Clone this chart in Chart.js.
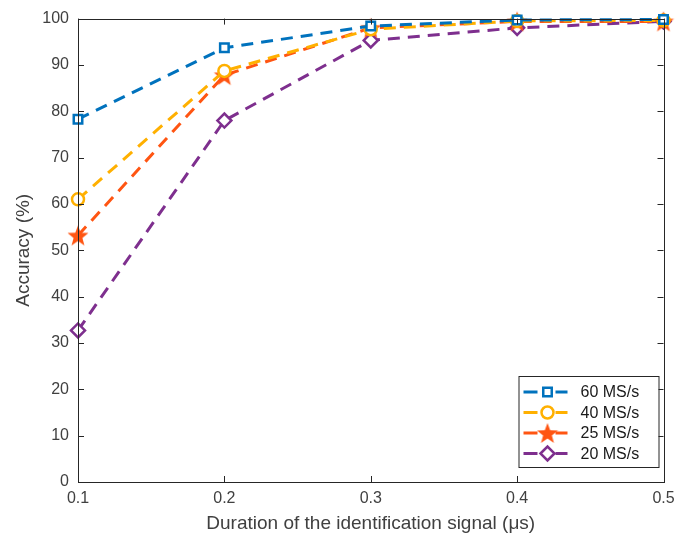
<!DOCTYPE html>
<html>
<head>
<meta charset="utf-8">
<script src="https://cdn.jsdelivr.net/npm/chart.js@4"></script>
<style>
  html, body { margin: 0; padding: 0; background: #fff; }
  #wrap { width: 677px; height: 538px; }
</style>
</head>
<body>
<div id="wrap"><canvas id="chart" width="677" height="538"></canvas></div>
<script>
// Duration of the identification signal (us)
var durations = [0.1, 0.2, 0.3, 0.4, 0.5];

// Accuracy (%) per sampling rate
var acc60 = [78.3, 93.7, 98.4, 99.7, 99.8];
var acc40 = [61.0, 88.7, 97.7, 99.5, 99.6];
var acc25 = [53.2, 87.8, 98.0, 99.4, 99.4];
var acc20 = [32.7, 78.0, 95.3, 98.0, 99.4];

var seriesNames = ['60 MS/s', '40 MS/s', '25 MS/s', '20 MS/s'];
var xTicks = [0.1, 0.2, 0.3, 0.4, 0.5];
var yTicks = [0, 10, 20, 30, 40, 50, 60, 70, 80, 90, 100];

var FONT = '"Liberation Sans", Arial, Helvetica, sans-serif';
var TEXT = '#404040';
var AXIS = '#262626';
var colors = ['#0072BD', '#FFB000', '#FF5512', '#7E2F8E'];

function makeStar(color, size) {
    var c = document.createElement('canvas');
    c.width = size; c.height = size;
    var g = c.getContext('2d');
    var cx = size / 2, cy = size / 2 + 1, R = size / 2, r = R * 0.42;
    g.beginPath();
    for (var i = 0; i < 10; i++) {
        var rad = i % 2 === 0 ? R : r;
        var a = -Math.PI / 2 + i * Math.PI / 5;
        g.lineTo(cx + rad * Math.cos(a), cy + rad * Math.sin(a));
    }
    g.closePath();
    g.fillStyle = color;
    g.fill();
    return c;
}

var star = makeStar(colors[2], 22);

function pts(ys) {
    return durations.map(function (x, i) { return { x: x, y: ys[i] }; });
}

var markers = [
    { style: 'rect', radius: 6 },
    { style: 'circle', radius: 6 },
    { style: star, radius: 11 },
    { style: 'rectRot', radius: 7 }
];

var datasets = [acc60, acc40, acc25, acc20].map(function (ys, i) {
    return {
        label: seriesNames[i],
        data: pts(ys),
        borderColor: colors[i],
        backgroundColor: '#fff',
        borderWidth: 3,
        borderDash: [12, 8],
        pointStyle: markers[i].style,
        pointRadius: markers[i].radius,
        pointBorderWidth: 2.5,
        pointBackgroundColor: '#fff',
        pointBorderColor: colors[i],
        tension: 0,
        clip: false
    };
});

// Box, inward ticks (MATLAB look)
var boxPlugin = {
    id: 'box',
    afterDatasetsDraw: function (chart) {
        var ctx = chart.ctx, a = chart.chartArea;
        var xs = chart.scales.x, ys = chart.scales.y;
        ctx.save();
        ctx.strokeStyle = AXIS;
        ctx.lineWidth = 1;
        ctx.beginPath();
        xTicks.forEach(function (v) {
            var px = Math.round(xs.getPixelForValue(v)) + 0.5;
            ctx.moveTo(px, a.bottom); ctx.lineTo(px, a.bottom - 6);
            ctx.moveTo(px, a.top); ctx.lineTo(px, a.top + 6);
        });
        yTicks.forEach(function (v) {
            var py = Math.round(ys.getPixelForValue(v)) + 0.5;
            ctx.moveTo(a.left, py); ctx.lineTo(a.left + 6, py);
            ctx.moveTo(a.right, py); ctx.lineTo(a.right - 6, py);
        });
        ctx.stroke();
        ctx.strokeRect(Math.round(a.left) + 0.5, Math.round(a.top) + 0.5,
            Math.round(a.right - a.left), Math.round(a.bottom - a.top));
        ctx.restore();
    }
};

// Legend inside the axes, lower right
var legendPlugin = {
    id: 'boxLegend',
    afterDraw: function (chart) {
        var ctx = chart.ctx, a = chart.chartArea;
        var w = 140, h = 91;
        var x0 = a.right - 5 - w, y0 = a.bottom - 15 - h;
        var drawPoint = Chart.helpers.drawPoint;
        ctx.save();
        ctx.fillStyle = '#fff';
        ctx.fillRect(x0, y0, w, h);
        ctx.strokeStyle = AXIS;
        ctx.lineWidth = 1;
        ctx.strokeRect(x0 + 0.5, y0 + 0.5, w, h);
        chart.data.datasets.forEach(function (ds, i) {
            var yy = y0 + 16 + i * 20.5;
            ctx.strokeStyle = ds.borderColor;
            ctx.lineWidth = 3;
            ctx.setLineDash([]);
            ctx.beginPath();
            ctx.moveTo(x0 + 5, yy); ctx.lineTo(x0 + 19, yy);
            ctx.moveTo(x0 + 37, yy); ctx.lineTo(x0 + 49, yy);
            ctx.stroke();

            ctx.save();
            ctx.fillStyle = '#fff';
            ctx.strokeStyle = ds.pointBorderColor;
            ctx.lineWidth = ds.pointBorderWidth;
            drawPoint(ctx, {
                pointStyle: ds.pointStyle,
                radius: ds.pointRadius,
                borderWidth: ds.pointBorderWidth,
                rotation: 0
            }, x0 + 29, yy);
            ctx.restore();

            ctx.fillStyle = '#1a1a1a';
            ctx.font = '16px ' + FONT;
            ctx.textBaseline = 'middle';
            ctx.textAlign = 'left';
            ctx.fillText(ds.label, x0 + 62, yy + 1);
        });
        ctx.restore();
    }
};

new Chart(document.getElementById('chart'), {
    type: 'line',
    data: { datasets: datasets },
    plugins: [boxPlugin, legendPlugin],
    options: {
        responsive: false,
        animation: false,
        layout: { padding: { top: 18, right: 0, left: 0, bottom: 0 } },
        plugins: {
            legend: { display: false },
            tooltip: { enabled: false }
        },
        scales: {
            x: {
                type: 'linear',
                min: 0.1,
                max: 0.5,
                afterBuildTicks: function (s) {
                    s.ticks = xTicks.map(function (v) { return { value: v }; });
                },
                afterFit: function (s) {
                    s.height = 56;
                    s.paddingRight = 9;
                    s.paddingLeft = 0;
                },
                grid: { display: false, drawTicks: false },
                border: { display: false },
                ticks: {
                    padding: 7,
                    color: TEXT,
                    font: { family: FONT, size: 16 },
                    callback: function (v) { return v.toFixed(1); }
                },
                title: {
                    display: true,
                    text: 'Duration of the identification signal (\u03bcs)',
                    color: TEXT,
                    font: { family: FONT, size: 19 },
                    padding: { top: 0, bottom: 3 }
                }
            },
            y: {
                min: 0,
                max: 100,
                afterBuildTicks: function (s) {
                    s.ticks = yTicks.map(function (v) { return { value: v }; });
                },
                afterFit: function (s) { s.width = 78; },
                grid: { display: false, drawTicks: false },
                border: { display: false },
                ticks: {
                    padding: 9,
                    color: TEXT,
                    font: { family: FONT, size: 16 }
                },
                title: {
                    display: true,
                    text: 'Accuracy (%)',
                    color: TEXT,
                    font: { family: FONT, size: 19 },
                    padding: { top: 12, bottom: 0 }
                }
            }
        }
    }
});
</script>
</body>
</html>
